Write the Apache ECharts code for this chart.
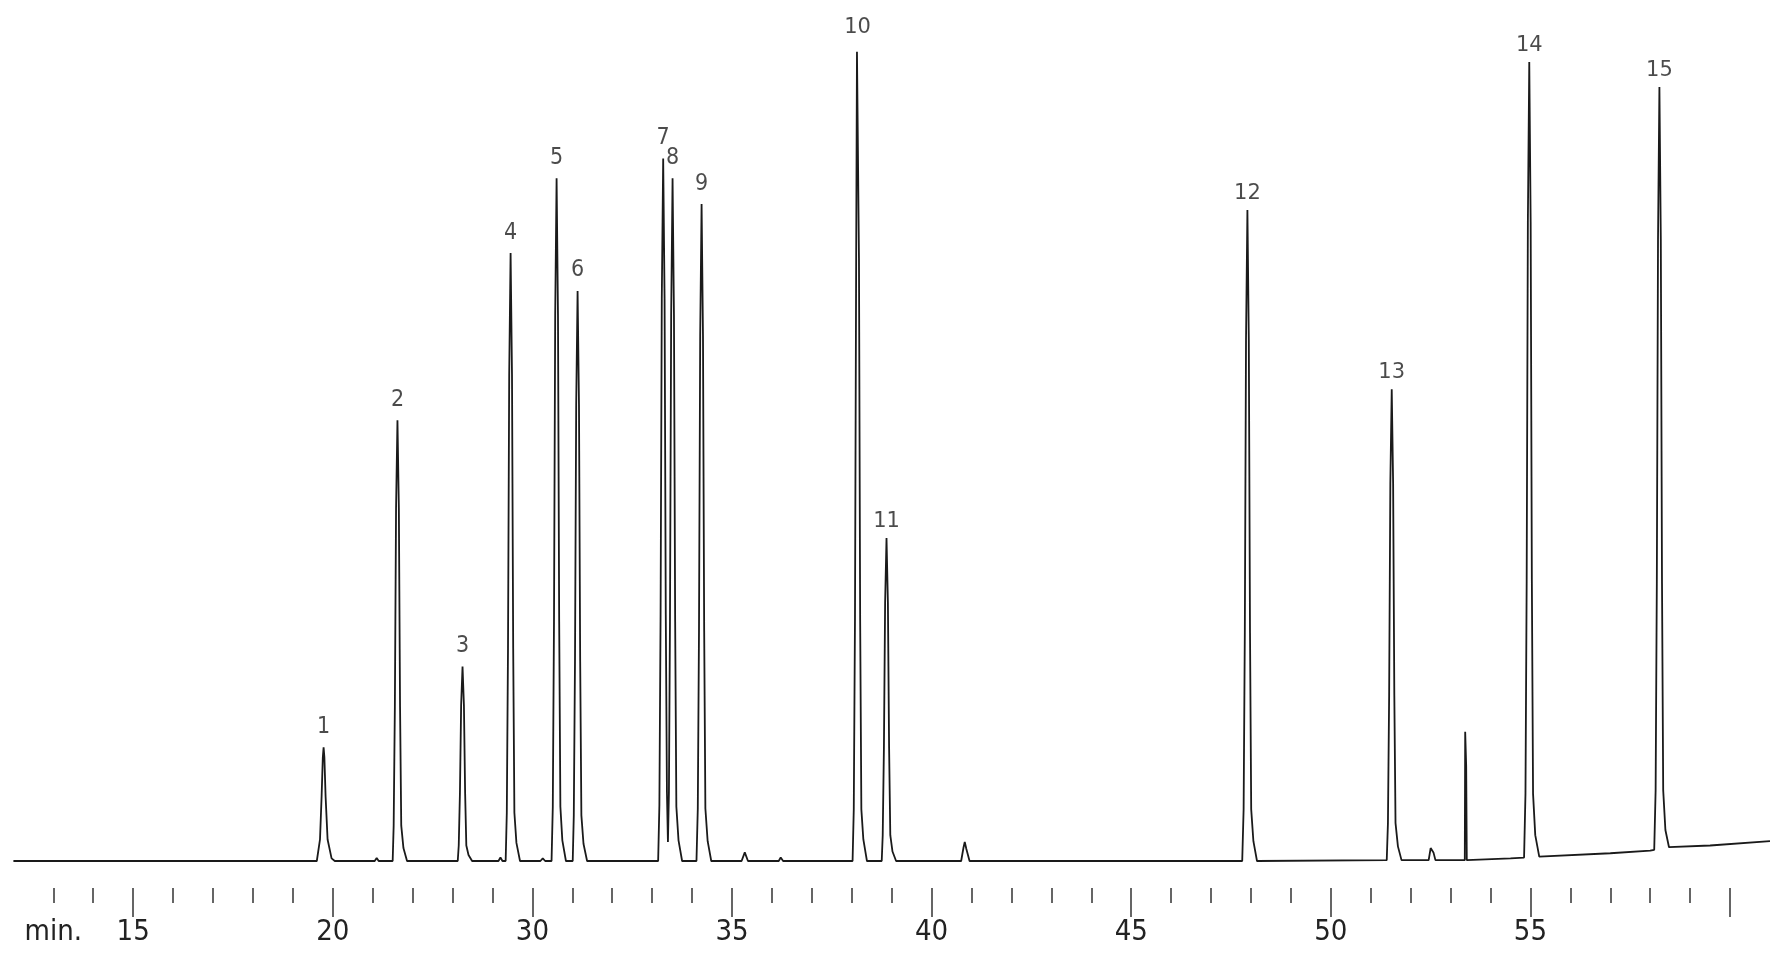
<!DOCTYPE html>
<html>
<head>
<meta charset="utf-8">
<script src="https://cdn.jsdelivr.net/npm/echarts@6/dist/echarts.min.js"></script>
<style>
  html, body { margin: 0; padding: 0; background: #ffffff; }
  #chart { width: 1770px; height: 954px; }
</style>
</head>
<body>
<div id="chart"></div>
<script>
// ---- Data (time in min, signal in arbitrary units) ----
const peakLabels  = ['1','2','3','4','5','6','7','8','9','10','11','12','13','14','15'];
const peakTimes   = [19.77, 21.62, 23.25, 24.454, 25.606, 26.132, 28.276, 28.511, 29.238, 33.145, 33.87, 42.91, 46.525, 49.97, 53.23];
const peakHeights = [13.2, 51.2, 22.6, 70.6, 79.3, 66.2, 81.6, 79.3, 76.3, 94.0, 37.5, 75.6, 54.8, 92.8, 89.9];

// Detector trace: [time, signal] points
const trace = [
  [12.0, 0], [19.60, 0],
  [19.68, 2.5], [19.72, 7.5], [19.75, 12.0], [19.77, 13.2], [19.79, 12.0], [19.82, 7.5], [19.87, 2.5], [19.97, 0.3], [20.05, 0],
  [21.05, 0], [21.10, 0.35], [21.15, 0],
  [21.50, 0], [21.525, 4.1], [21.555, 17.9], [21.585, 41.0], [21.62, 51.2], [21.655, 41.0], [21.685, 17.9], [21.715, 4.1], [21.77, 1.5], [21.86, 0],
  [23.13, 0], [23.155, 1.8], [23.185, 7.9], [23.215, 18.1], [23.25, 22.6], [23.285, 18.1], [23.315, 7.9], [23.345, 1.8], [23.40, 0.7], [23.49, 0],
  [24.15, 0], [24.20, 0.4], [24.25, 0],
  [24.33, 0], [24.359, 5.6], [24.389, 24.7], [24.419, 56.5], [24.454, 70.6], [24.489, 56.5], [24.519, 24.7], [24.549, 5.6], [24.60, 2.1], [24.69, 0],
  [25.20, 0], [25.26, 0.3], [25.32, 0],
  [25.48, 0], [25.511, 6.3], [25.541, 27.8], [25.571, 63.4], [25.606, 79.3], [25.641, 63.4], [25.671, 27.8], [25.701, 6.3], [25.75, 2.4], [25.84, 0],
  [26.01, 0], [26.037, 5.3], [26.067, 23.2], [26.097, 53.0], [26.132, 66.2], [26.167, 53.0], [26.197, 23.2], [26.227, 5.3], [26.28, 2.0], [26.37, 0],
  [28.15, 0], [28.181, 6.5], [28.211, 28.6], [28.241, 65.3], [28.276, 81.6], [28.311, 65.3], [28.341, 28.6], [28.37, 8.0],
  [28.395, 2.2],
  [28.42, 8.0], [28.446, 27.8], [28.476, 63.4], [28.511, 79.3], [28.546, 63.4], [28.576, 27.8], [28.606, 6.3], [28.66, 2.4], [28.75, 0],
  [29.11, 0], [29.143, 6.1], [29.173, 26.7], [29.203, 61.0], [29.238, 76.3], [29.273, 61.0], [29.303, 26.7], [29.333, 6.1], [29.39, 2.3], [29.48, 0],
  [30.24, 0], [30.32, 1.0], [30.40, 0],
  [31.17, 0], [31.22, 0.4], [31.28, 0],
  [33.02, 0], [33.05, 6.0], [33.08, 28.0], [33.11, 70.0], [33.13, 94.0], [33.16, 94.0], [33.18, 70.0], [33.21, 28.0], [33.24, 6.0], [33.29, 2.5], [33.38, 0],
  [33.75, 0], [33.775, 3.0], [33.805, 13.1], [33.835, 30.0], [33.87, 37.5], [33.905, 30.0], [33.935, 13.1], [33.965, 3.0], [34.02, 1.1], [34.11, 0],
  [35.74, 0], [35.80, 1.6], [35.83, 2.2], [35.87, 1.4], [35.95, 0],
  [42.78, 0], [42.815, 6.0], [42.845, 26.5], [42.875, 60.5], [42.91, 75.6], [42.945, 60.5], [42.975, 26.5], [43.005, 6.0], [43.06, 2.3], [43.15, 0],
  [46.40, 0.1], [46.43, 4.4], [46.46, 19.2], [46.49, 43.8], [46.525, 54.8], [46.56, 43.8], [46.59, 19.2], [46.62, 4.4], [46.68, 1.7], [46.77, 0.1],
  [47.45, 0.1], [47.50, 1.5], [47.53, 1.7], [47.57, 1.0], [47.62, 0.1],
  [48.355, 0.1], [48.365, 15.0], [48.385, 15.0], [48.39, 11.0], [48.40, 11.0], [48.405, 0.1],
  [49.50, 0.3],
  [49.84, 0.4], [49.875, 7.8], [49.905, 32.5], [49.935, 74.2], [49.97, 92.8], [50.005, 74.2], [50.035, 32.5], [50.065, 7.8], [50.12, 3.0], [50.22, 0.5],
  [52.00, 0.9], [53.00, 1.2],
  [53.10, 1.3], [53.135, 8.2], [53.165, 32.2], [53.195, 72.2], [53.23, 89.9], [53.265, 72.2], [53.295, 32.2], [53.325, 8.2], [53.38, 3.6], [53.47, 1.6],
  [54.50, 1.8], [56.00, 2.3]
];

// Axis ticks and labels as printed
const majorTickValues = [15, 20, 25, 30, 35, 40, 45, 50, 55];
const minorTickValues = [13, 14, 16, 17, 18, 19, 21, 22, 23, 24, 26, 27, 28, 29, 31, 32, 33, 34, 36, 37, 38, 39, 41, 42, 43, 44, 46, 47, 48, 49, 51, 52, 53, 54];
const tickLabelValues = [13, 15, 20, 25, 30, 35, 40, 45, 50];
const tickLabelTexts  = ['min.', '15', '20', '30', '35', '40', '45', '50', '55'];

// ---- Chart ----
const condensed = "'Liberation Sans Narrow', 'DejaVu Sans Condensed', 'Roboto Condensed', 'Liberation Sans', sans-serif";
const chart = echarts.init(document.getElementById('chart'), null, { renderer: 'canvas' });

const labelData = peakTimes.map((t, i) => {
  const wide = i >= 9;
  return {
    value: [t, peakHeights[i]],
    name: peakLabels[i],
    label: {
      fontFamily: wide ? "'DejaVu Sans', sans-serif" : condensed,
      fontSize: wide ? 21 : 23,
      distance: i === 9 ? 14 : (wide ? 6 : 9)
    }
  };
});

chart.setOption({
  animation: false,
  backgroundColor: '#ffffff',
  grid: { left: 13.4, right: 0, top: 0, bottom: 66, containLabel: false },
  xAxis: [
    {
      type: 'value', min: 12, max: 56, interval: 1, position: 'bottom',
      axisLine: { show: false, onZero: false },
      splitLine: { show: false },
      axisTick: { show: true, customValues: majorTickValues, length: 29, lineStyle: { color: '#333', width: 1.5 } },
      axisLabel: {
        show: true, customValues: tickLabelValues, margin: 30,
        fontSize: 29, color: '#222', fontFamily: condensed,
        formatter: v => { const k = tickLabelValues.indexOf(v); return k >= 0 ? tickLabelTexts[k] : ''; }
      }
    },
    {
      type: 'value', min: 12, max: 56, interval: 1, position: 'bottom', offset: 0,
      axisLine: { show: false, onZero: false },
      splitLine: { show: false },
      axisTick: { show: true, customValues: minorTickValues, length: 15, lineStyle: { color: '#333', width: 1.5 } },
      axisLabel: { show: false }
    }
  ],
  yAxis: { type: 'value', min: -3.136, max: 100, show: false },
  series: [
    {
      type: 'line', name: 'signal', xAxisIndex: 0,
      data: trace, showSymbol: false, symbol: 'none', smooth: false, sampling: null,
      lineStyle: { color: '#1a1a1a', width: 1.8 }
    },
    {
      type: 'scatter', name: 'peaks', xAxisIndex: 0,
      data: labelData, symbolSize: 0,
      label: { show: true, position: 'top', color: '#1e1e1e', formatter: p => p.name }
    }
  ]
});
</script>
</body>
</html>
